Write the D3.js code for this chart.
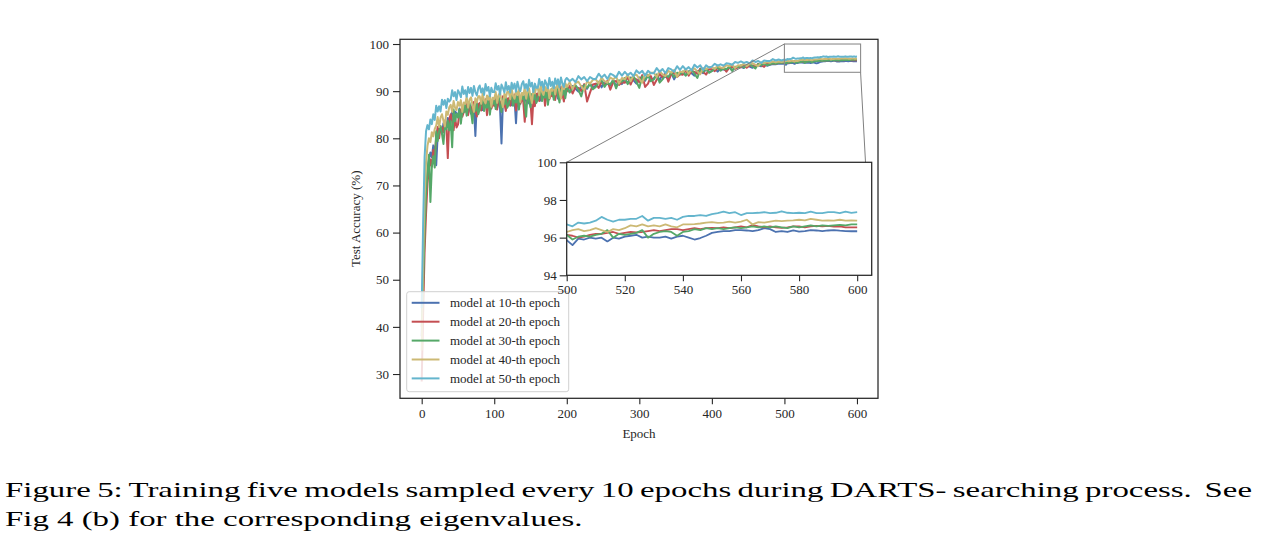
<!DOCTYPE html>
<html><head><meta charset="utf-8">
<script src="https://cdn.jsdelivr.net/npm/d3@7"></script>
<style>
html,body{margin:0;padding:0;background:#fff;}
svg{display:block;}
text{font-family:"Liberation Serif","Times New Roman",serif;fill:#262626;}
</style></head>
<body>
<svg id="chart" width="1275" height="557"></svg>
<script>
// ---------- DATA ----------
const seriesNames = ["model at 10-th epoch","model at 20-th epoch","model at 30-th epoch","model at 40-th epoch","model at 50-th epoch"];
const seriesColors = ["#4C72B0","#C44E52","#55A868","#CCB974","#64B5CD"];
// epochs: 0..198 every 2, 200..496 every 4, 500..600 every 2
const epochs = d3.range(0, 200, 2).concat(d3.range(200, 500, 4), d3.range(500, 601, 2));

const blueVals = [
 38,51,63,69,72.5,75.5,77.0,76.0,78.5,77.8,
 74.3,80.6,82.7,81.8,81.0,83.2,82.9,82.4,84.3,83.1,
 84.5,85.7,83.9,85.7,85.3,84.5,86.3,84.1,85.9,86.1,
 86.9,85.5,87.4,86.2,85.2,87.1,86.6,80.5,87.5,86.0,
 86.8,87.9,86.0,87.7,87.2,86.4,88.1,85.8,87.5,87.6,
 88.1,86.7,88.6,87.4,86.4,78.9,87.8,87.0,88.7,87.2,
 87.8,88.9,87.0,88.7,88.2,83.2,89.1,86.8,88.5,88.6,
 89.1,87.7,89.6,88.4,87.4,89.3,88.8,88.0,89.7,88.2,
 88.8,89.9,88.0,89.7,89.2,88.4,90.1,87.8,89.5,89.6,
 90.1,88.7,90.6,89.4,88.4,90.3,89.8,89.0,90.7,89.2,
 90.7,89.9,91.1,90.5,89.9,91.1,90.9,90.5,91.6,90.7,
 91.2,92.0,90.8,92.0,91.6,91.2,92.4,91.0,92.2,91.5,
 92.5,91.7,92.9,92.3,91.6,92.9,92.7,92.2,93.4,92.4,
 92.7,93.5,92.3,93.5,93.1,92.7,93.9,92.5,93.7,93.7,
 93.9,93.4,94.2,93.8,93.3,94.3,94.2,93.8,94.7,94.0,
 94.3,94.75,94.15,94.8,94.6,94.45,95.1,94.4,95.05,95.05,
 95.2,94.9,95.45,95.2,94.95,95.5,95.45,95.3,95.8,95.4,
 95.6,95.75,95.7,95.85,95.8,
 95.87,95.6,95.95,95.9,96.0,95.95,96.0,95.8,96.0,95.95,
 96.05,96.1,96.15,96.0,96.05,96.0,96.0,96.05,95.95,96.05,
 96.1,96.0,95.9,95.98,96.1,96.25,96.3,96.35,96.35,96.4,
 96.4,96.38,96.35,96.4,96.5,96.45,96.3,96.35,96.3,96.38,
 96.32,96.35,96.4,96.38,96.35,96.38,96.4,96.37,96.35,96.34,96.34];
const redVals = [
 28.4,43,56,64,70.5,73.5,75.5,74.0,77.5,76.2,
 80.3,82.4,80.0,82.4,82.2,81.3,83.8,82.5,75.8,84.1,
 85.1,83.6,81.7,84.5,82.3,82.9,85.5,86.1,84.6,85.6,
 85.7,87.5,84.9,87.0,86.6,85.4,87.7,86.1,84.6,87.2,
 87.5,85.9,88.0,86.6,88.3,84.9,87.4,87.9,86.3,87.2,
 86.9,88.7,86.1,88.2,87.8,86.6,88.9,87.3,85.8,88.4,
 88.5,86.9,89.0,87.6,89.3,85.9,88.4,88.9,87.3,88.2,
 87.9,83.5,87.1,89.2,88.8,87.6,83.0,88.3,86.8,89.4,
 89.5,87.9,90.0,88.6,90.3,86.9,89.4,89.9,88.3,89.2,
 88.9,90.7,88.1,90.2,89.8,88.6,90.9,89.3,87.8,90.4,
 89.9,91.1,89.5,90.9,90.7,90.0,91.5,87.8,89.7,91.4,
 91.6,90.7,92.0,91.2,92.2,90.3,91.9,92.2,91.3,91.9,
 91.8,93.0,91.4,92.8,92.5,91.9,93.4,90.9,91.6,93.2,
 91.3,92.4,93.7,92.9,93.9,92.0,93.6,93.9,93.0,93.6,
 93.5,94.4,93.3,94.3,94.1,93.7,94.8,94.1,93.5,94.65,
 94.65,94.25,94.9,94.55,95.05,94.15,95.0,95.15,94.75,95.05,
 95.05,95.5,94.95,95.5,95.45,95.2,95.8,95.5,95.15,95.85,
 95.7,95.9,95.8,96.0,96.05,
 96.15,96.1,96.0,96.05,96.15,96.2,96.2,96.25,96.3,96.2,
 96.25,96.3,96.28,96.3,96.35,96.4,96.35,96.4,96.45,96.45,
 96.4,96.45,96.5,96.45,96.5,96.52,96.5,96.55,96.5,96.55,
 96.6,96.55,96.67,96.6,96.55,96.6,96.55,96.52,96.55,96.6,
 96.6,96.55,96.6,96.62,96.6,96.62,96.58,96.6,96.55,96.55,96.55];
const greenVals = [
 40,49,60,68,73,76.5,66.5,74.0,76.2,73.8,
 81.5,79.4,81.5,82.6,80.9,78.8,82.8,81.9,83.7,81.7,
 83.6,78.1,86.1,83.6,85.2,84.4,86.1,83.1,85.8,85.5,
 87.2,84.8,86.7,87.5,85.6,83.2,87.0,85.8,87.4,85.1,
 86.1,87.7,88.4,85.8,87.3,86.5,88.1,85.0,87.6,87.2,
 88.6,86.2,88.1,88.9,87.0,85.6,88.4,87.2,88.8,86.5,
 87.2,88.8,89.5,86.9,88.4,87.6,89.2,86.1,88.7,88.3,
 89.6,87.2,84.6,89.9,88.0,86.6,89.4,88.2,89.8,87.5,
 88.2,89.8,90.5,87.9,89.4,88.6,90.2,87.1,89.7,89.3,
 90.6,88.2,90.1,90.9,89.0,87.6,90.4,89.2,90.8,88.5,
 91.0,89.7,90.8,91.3,90.3,88.9,91.3,90.7,91.6,90.4,
 90.9,91.9,92.3,90.9,91.8,91.4,92.4,90.6,92.3,92.0,
 92.8,91.5,92.6,93.1,92.0,90.7,93.1,92.4,93.4,92.1,
 92.5,93.5,91.8,92.5,93.4,93.0,94.0,93.0,93.9,93.6,
 94.2,93.3,94.1,94.5,93.7,92.8,94.6,94.1,94.8,93.9,
 94.25,94.8,95.0,94.35,94.8,94.65,95.2,94.3,95.2,95.05,
 95.5,95.0,95.5,95.7,95.3,94.8,95.75,95.5,95.9,95.5,
 95.7,95.9,95.8,96.0,96.0,
 96.15,95.9,96.05,96.1,96.05,96.15,96.2,96.4,96.0,96.2,
 96.15,96.2,96.25,96.4,96.0,96.2,96.3,96.35,96.3,96.1,
 96.3,96.35,96.45,96.4,96.5,96.45,96.5,96.45,96.5,96.55,
 96.5,96.55,96.6,96.55,96.6,96.55,96.6,96.55,96.5,96.6,
 96.55,96.6,96.65,96.6,96.65,96.62,96.65,96.68,96.65,96.7,96.7];
const yellowVals = [
 35,54,67,75,78.4,80.0,79.2,81.3,80.4,82.0,
 82.7,84.5,82.4,84.4,85.1,83.7,82.5,85.7,85.0,86.6,
 87.1,85.6,87.9,86.5,86.0,87.7,86.9,88.1,85.6,87.6,
 87.3,88.8,86.5,88.2,88.7,87.0,85.6,88.5,87.6,88.9,
 88.9,87.3,89.5,88.0,87.4,89.1,88.2,89.3,86.7,88.6,
 88.3,89.8,87.5,89.2,89.7,88.0,86.6,89.5,88.6,89.9,
 89.9,88.3,90.5,89.0,88.4,90.1,89.2,90.3,87.7,89.6,
 89.2,90.7,88.4,90.1,90.6,88.9,87.5,90.4,89.5,90.8,
 90.7,89.1,91.3,89.8,89.2,90.9,90.0,91.1,88.5,90.4,
 90.1,91.6,89.3,91.0,91.5,89.8,88.4,91.3,90.4,91.7,
 90.9,91.9,90.5,91.7,92.0,91.0,90.2,92.1,91.6,92.4,
 92.5,91.6,92.9,92.1,91.8,92.9,92.5,93.1,91.6,92.8,
 92.5,93.5,92.1,93.3,93.5,92.6,91.8,93.6,93.2,93.9,
 93.9,93.0,94.3,93.5,93.2,94.3,93.9,94.5,93.0,94.2,
 94.0,94.7,93.7,94.6,94.8,94.2,93.6,94.9,94.6,95.1,
 95.1,94.7,95.4,95.0,94.9,95.5,95.3,95.6,94.9,95.5,
 95.4,95.8,95.3,95.8,95.95,95.6,95.3,96.05,95.9,96.2,
 96.0,96.3,96.1,96.3,96.2,
 96.3,96.4,96.45,96.35,96.4,96.5,96.4,96.3,96.45,96.4,
 96.5,96.65,96.6,96.7,96.6,96.65,96.6,96.7,96.6,96.55,
 96.7,96.7,96.72,96.75,96.8,96.82,96.78,96.8,96.85,96.8,
 96.85,96.95,96.7,96.82,96.8,96.85,96.9,96.88,96.9,96.92,
 96.95,96.92,97.0,96.95,96.9,96.92,96.9,96.95,96.9,96.92,96.9];
const cyanVals = [
 44,62,76,81.5,82.8,81.9,84.0,83.0,85.1,83.9,
 86.9,85.7,86.8,85.7,88.2,87.1,88.1,86.4,88.4,87.8,
 88.2,90.2,88.9,89.8,88.1,90.2,89.6,88.7,91.0,89.4,
 90.2,88.8,90.9,89.6,90.7,89.0,91.1,89.8,89.1,90.6,
 91.2,89.7,90.6,89.2,91.5,90.1,90.9,88.9,90.7,89.8,
 89.8,91.7,90.3,91.1,89.3,91.4,90.7,89.7,91.9,90.2,
 91.1,89.7,91.8,90.5,91.6,89.9,92.0,90.7,90.0,91.5,
 92.1,90.6,91.5,90.1,92.4,91.0,91.8,89.8,91.6,90.7,
 90.7,92.6,91.2,92.0,90.2,92.3,91.6,90.6,92.8,91.1,
 92.0,90.6,92.7,91.4,92.5,90.8,92.9,91.6,90.9,92.4,
 92.8,92.1,92.6,91.9,93.2,92.5,93.0,92.1,93.0,92.6,
 92.6,93.7,92.9,93.5,92.6,93.7,93.4,92.9,94.1,93.3,
 94.1,93.4,93.9,93.2,94.4,93.8,94.3,93.3,94.3,93.8,
 93.8,94.9,94.1,94.7,93.8,94.9,94.6,94.1,95.3,94.5,
 95.3,94.6,95.1,94.4,95.6,95.0,95.5,94.5,95.5,95.0,
 95.2,95.8,95.4,95.7,95.4,95.9,95.8,95.6,96.2,96.0,
 96.3,96.0,96.2,95.9,96.5,96.2,96.4,96.0,96.5,96.4,
 96.4,96.8,96.5,96.7,96.5,
 96.7,96.6,96.8,96.75,96.8,96.9,97.1,96.95,96.85,96.95,
 96.95,97.0,97.0,97.15,96.9,97.05,97.05,97.0,97.05,96.95,
 97.1,97.15,97.15,97.2,97.15,97.25,97.3,97.38,97.3,97.35,
 97.2,97.3,97.3,97.32,97.35,97.3,97.32,97.4,97.32,97.3,
 97.32,97.3,97.38,97.3,97.3,97.35,97.35,97.3,97.38,97.32,97.35];

const seriesValues = [blueVals, redVals, greenVals, yellowVals, cyanVals];

const mainXTicks = [0,100,200,300,400,500,600];
const mainYTicks = [30,40,50,60,70,80,90,100];
const insetXTicks = [500,520,540,560,580,600];
const insetYTicks = [94,96,98,100];
const xLabel = "Epoch";
const yLabel = "Test Accuracy (%)";
const caption1 = "Figure 5: Training five models sampled every 10 epochs during DARTS- searching process.  See";
const caption2 = "Fig 4 (b) for the corresponding eigenvalues.";

// ---------- DRAW ----------
const svg = d3.select("#chart");
const axisColor = "#262626";
const main = {left:400, right:878, top:39.3, bottom:398.3};
const inset = {left:566.7, right:871.7, top:162.3, bottom:275.3};

const x = d3.scaleLinear().domain([-29.9, 629.0]).range([main.left, main.right]);
const y = d3.scaleLinear().domain([24.85, 101.0]).range([main.bottom, main.top]);
const xi = d3.scaleLinear().domain([500, 605]).range([inset.left, inset.right]);
const yi = d3.scaleLinear().domain([94, 100]).range([inset.bottom, inset.top]);

const defs = svg.append("defs");
defs.append("clipPath").attr("id","clipMain").append("rect")
  .attr("x",main.left).attr("y",main.top).attr("width",main.right-main.left).attr("height",main.bottom-main.top);
defs.append("clipPath").attr("id","clipInset").append("rect")
  .attr("x",inset.left).attr("y",inset.top).attr("width",inset.right-inset.left).attr("height",inset.bottom-inset.top);

function pts(vals){ return vals.map((v,i)=>[epochs[i], v]).filter(d=>d[0]!==undefined); }

// main lines
const gMain = svg.append("g").attr("clip-path","url(#clipMain)");
const lineMain = d3.line().x(d=>x(d[0])).y(d=>y(d[1]));
seriesValues.forEach((vals,k)=>{
  gMain.append("path").datum(pts(vals)).attr("d",lineMain)
    .attr("fill","none").attr("stroke",seriesColors[k]).attr("stroke-width",2)
    .attr("stroke-linejoin","round");
});

function styleAxis(g){
  g.select(".domain").remove();
  g.selectAll(".tick line").attr("stroke",axisColor).attr("stroke-width",1.1);
  g.selectAll(".tick text").attr("font-size","13px").attr("fill",axisColor)
   .attr("font-family","Liberation Serif, serif");
}
// main axes
const gx = svg.append("g").attr("transform",`translate(0,${main.bottom})`)
  .call(d3.axisBottom(x).tickValues(mainXTicks).tickSize(6).tickPadding(4).tickFormat(d3.format("d")));
const gy = svg.append("g").attr("transform",`translate(${main.left},0)`)
  .call(d3.axisLeft(y).tickValues(mainYTicks).tickSize(7).tickPadding(4).tickFormat(d3.format("d")));
styleAxis(gx); styleAxis(gy);
svg.append("rect").attr("x",main.left).attr("y",main.top)
  .attr("width",main.right-main.left).attr("height",main.bottom-main.top)
  .attr("fill","none").attr("stroke",axisColor).attr("stroke-width",1.25);

svg.append("text").attr("x",(main.left+main.right)/2).attr("y",438)
  .attr("text-anchor","middle").attr("font-size","13px").text(xLabel);
svg.append("text").attr("transform",`translate(360,${(main.top+main.bottom)/2}) rotate(-90)`)
  .attr("text-anchor","middle").attr("font-size","13px").text(yLabel);

// zoom box + connectors
const boxX0 = x(500), boxX1 = x(605), boxY0 = y(100), boxY1 = y(94);
svg.append("rect").attr("x",boxX0).attr("y",boxY0).attr("width",boxX1-boxX0).attr("height",boxY1-boxY0)
  .attr("fill","none").attr("stroke","#8c8c8c").attr("stroke-width",1.1);
svg.append("line").attr("x1",boxX0).attr("y1",boxY0).attr("x2",inset.left).attr("y2",inset.top)
  .attr("stroke","#808080").attr("stroke-width",1);
svg.append("line").attr("x1",boxX1).attr("y1",boxY1).attr("x2",inset.right).attr("y2",inset.bottom)
  .attr("stroke","#808080").attr("stroke-width",1);

// legend
const leg = svg.append("g");
leg.append("rect").attr("x",406.7).attr("y",291.7).attr("width",162).attr("height",100)
  .attr("rx",2.5).attr("fill","#ffffff").attr("fill-opacity",0.82)
  .attr("stroke","#d0d0d0").attr("stroke-width",1);
seriesNames.forEach((name,k)=>{
  const yy = 302.8 + k*18.9;
  leg.append("line").attr("x1",411.7).attr("x2",439.5).attr("y1",yy).attr("y2",yy)
    .attr("stroke",seriesColors[k]).attr("stroke-width",2);
  leg.append("text").attr("x",450).attr("y",yy).attr("dy","0.34em")
    .attr("font-size","13px").text(name);
});

// inset
svg.append("rect").attr("x",inset.left).attr("y",inset.top)
  .attr("width",inset.right-inset.left).attr("height",inset.bottom-inset.top).attr("fill","#fff");
const gIn = svg.append("g").attr("clip-path","url(#clipInset)");
const lineIn = d3.line().x(d=>xi(d[0])).y(d=>yi(d[1]));
seriesValues.forEach((vals,k)=>{
  gIn.append("path").datum(pts(vals).filter(d=>d[0]>=496)).attr("d",lineIn)
    .attr("fill","none").attr("stroke",seriesColors[k]).attr("stroke-width",1.8)
    .attr("stroke-linejoin","round");
});
const gxi = svg.append("g").attr("transform",`translate(0,${inset.bottom})`)
  .call(d3.axisBottom(xi).tickValues(insetXTicks).tickSize(6).tickPadding(3).tickFormat(d3.format("d")));
const gyi = svg.append("g").attr("transform",`translate(${inset.left},0)`)
  .call(d3.axisLeft(yi).tickValues(insetYTicks).tickSize(7).tickPadding(3).tickFormat(d3.format("d")));
styleAxis(gxi); styleAxis(gyi);
svg.append("rect").attr("x",inset.left).attr("y",inset.top)
  .attr("width",inset.right-inset.left).attr("height",inset.bottom-inset.top)
  .attr("fill","none").attr("stroke",axisColor).attr("stroke-width",1.25);

// caption (horizontally stretched like the reference, line 1 justified by word spacing)
const capScale = 1.494;
const cap1 = svg.append("text").attr("transform",`translate(5,497) scale(${capScale},1)`).attr("font-size","22px")
  .style("fill","#000").style("white-space","pre").text(caption1);
const natural = cap1.node().getComputedTextLength();
const nSpaces = (caption1.match(/ /g) || []).length;
const extra = (1247/capScale - natural) / nSpaces;
cap1.attr("word-spacing", extra);
svg.append("text").attr("transform",`translate(5,525.5) scale(${capScale},1)`).attr("font-size","22px")
  .style("fill","#000").text(caption2);
</script>
</body></html>
